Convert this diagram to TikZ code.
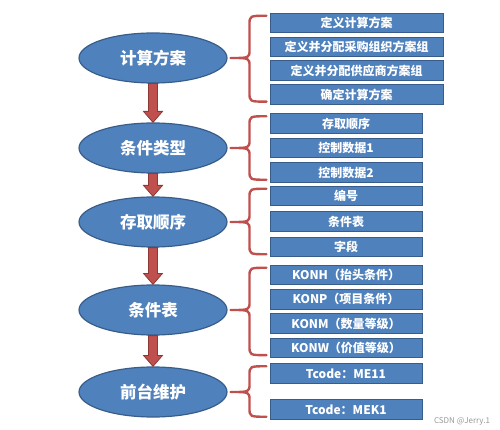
\documentclass[tikz,border=0pt]{standalone}
\usepackage{fontspec}
\setmainfont{Noto Sans CJK SC}
\usetikzlibrary{positioning,calc,shapes}
\definecolor{ofblue}{RGB}{79,129,189}
\definecolor{ofblueline}{RGB}{56,93,138}
\definecolor{ofred}{RGB}{192,80,77}
\definecolor{ofredline}{RGB}{140,56,54}
\tikzstyle{oval} = [ellipse, minimum width=148pt, minimum height=50pt, inner sep=0pt, fill=ofblue, draw=ofblueline, line width=1.2pt, text=white, font=\fontsize{16.5}{18}\selectfont\bfseries]
\tikzstyle{item} = [rectangle, minimum width=152pt, minimum height=19.5pt, inner sep=0pt, fill=ofblue, draw=ofblueline, line width=1pt, text=white, font=\fontsize{12}{14}\selectfont\bfseries]
\tikzstyle{wideitem} = [item, minimum width=173pt]
\tikzstyle{curly} = [ofred, line width=2.4pt, line cap=round, line join=round]
\tikzstyle{fatarrow} = [fill=ofred, draw=ofredline, line width=0.8pt]
% brace from an oval to a group of boxes: #1 oval, #2 first box, #3 last box
\newcommand{\curlybrace}[3]{%
  \draw [curly] let \p1=(#2.north west), \p2=(#3.south west), \p3=(#1.east) in
    (\x1-3pt,\y1-3pt) .. controls (\x1-20pt,\y1-3pt) .. (\x1-20pt,\y1-12pt)
    -- (\x1-20pt,\y3+8pt) .. controls (\x1-20pt,\y3) .. (\x1-39pt,\y3)
    .. controls (\x1-20pt,\y3) .. (\x1-20pt,\y3-8pt)
    -- (\x1-20pt,\y2+12pt) .. controls (\x1-20pt,\y2+3pt) .. (\x1-3pt,\y2+3pt);}
% thick red arrow from one oval down to the next
\newcommand{\fatdown}[2]{%
  \draw [fatarrow] let \p1=(#1.south), \p2=(#2.north) in
    (\x1-4.5pt,\y1) -- (\x1+4.5pt,\y1) -- (\x1+4.5pt,\y2+11pt) -- (\x1+9.5pt,\y2+11pt)
    -- (\x1,\y2) -- (\x1-9.5pt,\y2+11pt) -- (\x1-4.5pt,\y2+11pt) -- cycle;}

\begin{document}
\begin{tikzpicture}[x=1pt,y=-1pt]
			\useasboundingbox (0,0) rectangle (500,430);
			\node (plan) [oval] at (153,58) {计算方案};
			\node (ctype) [oval] at (153,148) {条件类型};
			\node (seq) [oval] at (153,222) {存取顺序};
			\node (table) [oval] at (153,310) {条件表};
			\node (front) [oval] at (153,392) {前台维护};
			
			\node (p1) [wideitem] at (356.5,23) {定义计算方案};
			\node (p2) [wideitem,below=3.3pt of p1] {定义并分配采购组织方案组};
			\node (p3) [wideitem,below=3.3pt of p2] {定义并分配供应商方案组};
			\node (p4) [wideitem,below=3.3pt of p3] {确定计算方案};
			
			\node (c1) [item] at (346,123.5) {存取顺序};
			\node (c2) [item,below=4pt of c1] {控制数据1};
			\node (c3) [item,below=4pt of c2] {控制数据2};
			
			\node (s1) [item] at (346,196) {编号};
			\node (s2) [item,below=5pt of s1] {条件表};
			\node (s3) [item,below=5pt of s2] {字段};
			
			\node (t1) [item] at (346,275) {KONH（抬头条件）};
			\node (t2) [item,below=3.8pt of t1] {KONP（项目条件）};
			\node (t3) [item,below=3.8pt of t2] {KONM（数量等级）};
			\node (t4) [item,below=3.8pt of t3] {KONW（价值等级）};
			
			\node (f1) [item] at (346,373.5) {Tcode：ME11};
			\node (f2) [item,below=15.5pt of f1] {Tcode：MEK1};
			
			\node (mark) [text=gray!80, font=\fontsize{8}{9}\selectfont] at (462,421) {CSDN @Jerry.1};
			
			\fatdown{plan}{ctype}
			\fatdown{ctype}{seq}
			\fatdown{seq}{table}
			\fatdown{table}{front}
			
			\curlybrace{plan}{p1}{p4}
			\curlybrace{ctype}{c1}{c3}
			\curlybrace{seq}{s1}{s3}
			\curlybrace{table}{t1}{t4}
			\curlybrace{front}{f1}{f2}
			\end{tikzpicture}
\end{document}
